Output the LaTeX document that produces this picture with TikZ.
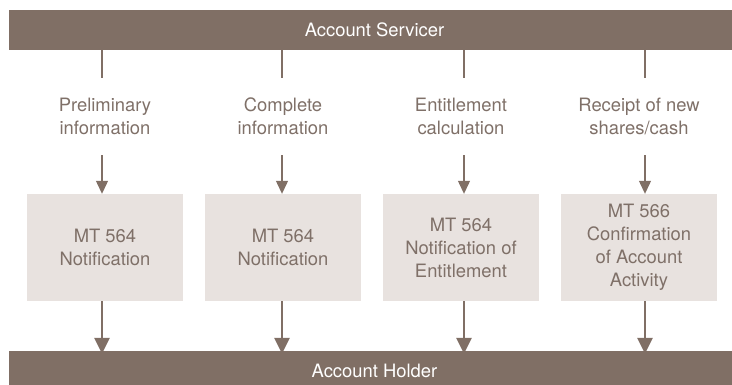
\documentclass[tikz,border=0pt]{standalone}
\usepackage{fontspec}
\setmainfont{TeX Gyre Heros}
\usetikzlibrary{arrows.meta}
\definecolor{barbrown}{RGB}{128,111,101}
\definecolor{boxfill}{RGB}{232,226,223}
\definecolor{inktext}{RGB}{127,112,104}
\begin{document}
\begin{tikzpicture}[x=1pt,y=-1pt,
  txt/.style={font=\fontsize{18.4}{23}\selectfont},
  bar/.style={txt, fill=barbrown, text=white, minimum height=40pt,
    minimum width=731pt, inner sep=0pt},
  stage/.style={txt, text=inktext, align=center, minimum height=77pt,
    inner sep=0pt},
  msgbox/.style={txt, text=inktext, fill=boxfill, align=center,
    minimum width=156pt, minimum height=107pt, inner sep=0pt},
  feed/.style={draw=barbrown, line width=1.2pt},
  thinarrow/.style={feed, -{Triangle[width=12pt,length=13pt]}},
  thickarrow/.style={draw=barbrown, line width=2.6pt,
    -{Triangle[width=15pt,length=16pt]}}]
\useasboundingbox (0,0) rectangle (732,384);
\begin{scope}
\clip (0,0) rectangle (732,384);
% bars for the two parties
\node[bar] (servicer) at (374.5,30) {Account Servicer};
\node[bar] (holder) at (374.5,371) {Account Holder};
\end{scope}

% x positions of the connector lines
\coordinate (x1) at (102,0);
\coordinate (x2) at (282,0);
\coordinate (x3) at (464,0);
\coordinate (x4) at (645,0);

% event labels
\node[stage] (s1) at (105,116.5) {Preliminary\\information};
\node[stage] (s2) at (283,116.5) {Complete\\information};
\node[stage] (s3) at (461,116.5) {Entitlement\\calculation};
\node[stage] (s4) at (639,116.5) {Receipt of new\\shares/cash};

% message boxes
\node[msgbox] (m1) at (105,247.5) {MT 564\\Notification};
\node[msgbox] (m2) at (283,247.5) {MT 564\\Notification};
\node[msgbox] (m3) at (461,247.5) {MT 564\\Notification of\\Entitlement};
\node[msgbox] (m4) at (639,247.5) {MT 566\\Confirmation\\of Account\\Activity};

\foreach \i in {1,...,4}{
  \draw[feed] (servicer.south -| x\i) -- (s\i.north -| x\i);
  \draw[thinarrow] (s\i.south -| x\i) -- (m\i.north -| x\i);
  \draw[thickarrow] (m\i.south -| x\i) -- ([yshift=-3pt]holder.north -| x\i);
}
\end{tikzpicture}
\end{document}
